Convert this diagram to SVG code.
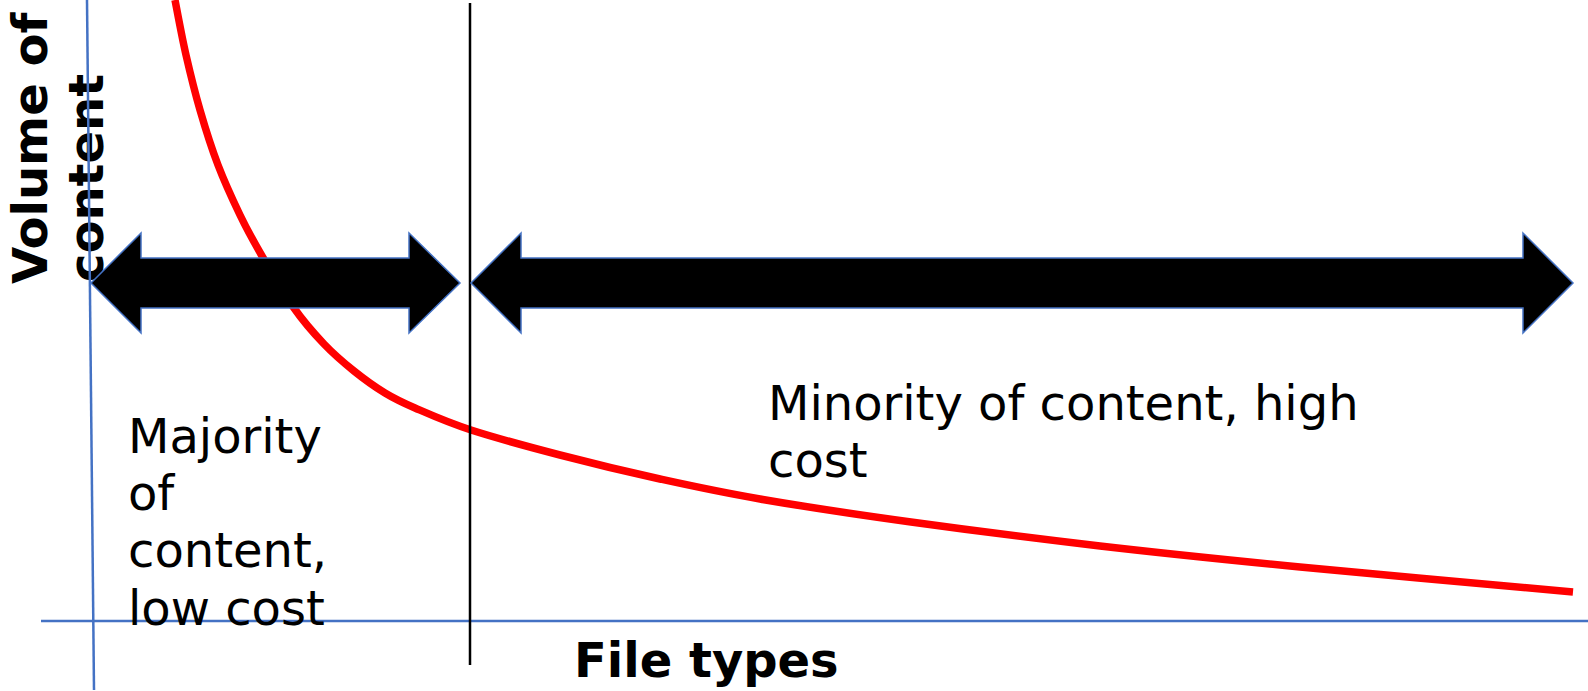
<svg xmlns="http://www.w3.org/2000/svg" width="1588" height="691" viewBox="0 0 1588 691">
  <style>
    .axis { stroke: #4472C4; stroke-width: 2.5; fill: none; }
    .divider { stroke: #000000; stroke-width: 2.5; fill: none; }
    .curve { stroke: #FF0000; stroke-width: 7.5; fill: none; stroke-linejoin: round; }
    .span { fill: #000000; stroke: #4472C4; stroke-width: 1.5; stroke-linejoin: miter; }
    .label { font-family: "DejaVu Sans", "Liberation Sans", sans-serif; font-size: 48px; fill: #000000; }
    .bold { font-weight: bold; }
  </style>
  <rect width="1588" height="691" fill="#ffffff"/>

  <!-- demand curve -->
  <g id="curve">
    <path class="curve" d="M175,0 C176.8,9.2 181.8,36.7 186,55 C190.2,73.3 194.7,91.7 200,110 C205.3,128.3 211.3,147.5 218,165 C224.7,182.5 232.7,199.8 240,215 C247.3,230.2 253,240.5 262,256 C271,271.5 283.7,293.3 294,308 C304.3,322.7 314,333.5 324,344 C334,354.5 343.8,362.8 354,371 C364.2,379.2 374.8,386.8 385,393 C395.2,399.2 400.7,401.8 415,408 C429.3,414.2 446.8,422.2 471,430 C495.2,437.8 528.5,446.8 560,455 C591.5,463.2 626.7,471.7 660,479 C693.3,486.3 718.2,491.8 760,499 C801.8,506.2 854.3,514.2 911,522 C967.7,529.8 1035.2,538.5 1100,546 C1164.8,553.5 1221.2,559.3 1300,567 C1378.8,574.7 1527.5,587.8 1573,592"/>
  </g>

  <!-- axis titles -->
  <g id="y-title">
    <text class="label bold" transform="translate(47,284) rotate(-90)">Volume of</text>
    <text class="label bold" transform="translate(103,282) rotate(-90)">content</text>
  </g>
  <g id="x-title">
    <text class="label bold" x="574" y="677">File types</text>
  </g>

  <!-- axes and divider -->
  <g id="connectors">
    <line class="axis" x1="87" y1="0" x2="94" y2="690"/>
    <line class="axis" x1="41" y1="621" x2="1588" y2="621"/>
    <line class="divider" x1="470" y1="3" x2="470" y2="665"/>
  </g>

  <!-- range arrows -->
  <g id="head-range">
    <polygon class="span" points="91,283 141,233 141,258 409,258 409,233 460,283 409,333 409,308 141,308 141,333"/>
  </g>
  <g id="tail-range">
    <polygon class="span" points="471,283 521,233 521,258 1523,258 1523,233 1573,283 1523,333 1523,308 521,308 521,333"/>
  </g>

  <!-- region notes -->
  <g id="head-note">
    <text class="label">
      <tspan x="128" y="453">Majority</tspan>
      <tspan x="128" y="510">of</tspan>
      <tspan x="128" y="567">content,</tspan>
      <tspan x="128" y="625">low cost</tspan>
    </text>
  </g>
  <g id="tail-note">
    <text class="label">
      <tspan x="768" y="420">Minority of content, high</tspan>
      <tspan x="768" y="477">cost</tspan>
    </text>
  </g>
</svg>
